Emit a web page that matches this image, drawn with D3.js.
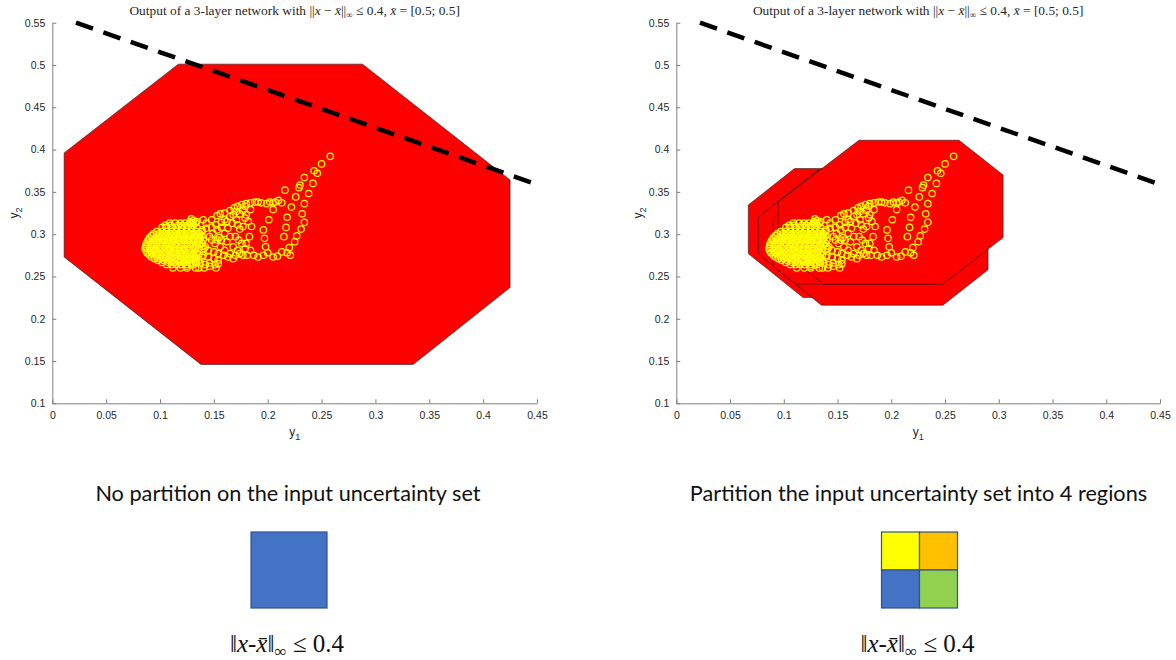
<!DOCTYPE html>
<html>
<head>
<meta charset="utf-8">
<script src="https://cdn.jsdelivr.net/npm/d3@7"></script>
<style>
body{margin:0;background:#fff;}
</style>
</head>
<body>
<div class="canvas"></div>
<script>
// DATA
const xTicks = [0, 0.05, 0.1, 0.15, 0.2, 0.25, 0.3, 0.35, 0.4, 0.45];
const yTicks = [0.1, 0.15, 0.2, 0.25, 0.3, 0.35, 0.4, 0.45, 0.5, 0.55];

// output set with no partition (octagon, [y1,y2])
const wholeSet = [[0.011,0.396],[0.117,0.501],[0.288,0.501],[0.425,0.364],[0.425,0.237],[0.335,0.146],[0.138,0.146],[0.011,0.273]];

// output sets of the 4 partitions, in drawing order
const region1 = [[0.067,0.3345],[0.110,0.3775],[0.200,0.3775],[0.235,0.3425],[0.235,0.270],[0.190,0.225],[0.118,0.225],[0.067,0.277]];
const region2 = [[0.0763,0.320],[0.131,0.375],[0.245,0.375],[0.290,0.330],[0.290,0.258],[0.248,0.216],[0.135,0.216],[0.0763,0.277]];
const region3 = [[0.0901,0.3187],[0.140,0.3687],[0.240,0.3687],[0.270,0.3387],[0.270,0.270],[0.240,0.241],[0.111,0.241],[0.0901,0.2615]];
const region4 = [[0.0947,0.338],[0.170,0.411],[0.263,0.411],[0.304,0.370],[0.304,0.296],[0.248,0.241],[0.137,0.241],[0.0947,0.283]];

// unsafe boundary (dashed)
const boundaryY1 = [0.022, 0.445];
const boundaryY2 = [0.550, 0.361];

// sampled network outputs [y1,y2]
const tipChain = [
  [0.258,0.392],[0.250,0.383],[0.243,0.375],[0.246,0.372],[0.242,0.360],[0.234,0.367],[0.230,0.358],
  [0.229,0.355],[0.238,0.348],[0.226,0.344],[0.234,0.336],[0.222,0.332],[0.232,0.324],[0.218,0.320],
  [0.234,0.314],[0.231,0.306],[0.217,0.308],[0.227,0.298],[0.215,0.297],[0.225,0.291],[0.220,0.284],
  [0.218,0.278],[0.213,0.279],[0.209,0.274],[0.205,0.273],[0.221,0.275],[0.216,0.352],[0.210,0.340]
];
const midLoops = [
  [0.205,0.337],[0.201,0.317],[0.196,0.305],[0.197,0.295],[0.198,0.285],[0.200,0.278],[0.196,0.275],
  [0.191,0.273],[0.187,0.275],[0.184,0.281],[0.180,0.289],[0.183,0.297],[0.185,0.309],[0.182,0.315],
  [0.179,0.319],[0.180,0.323],[0.184,0.329],[0.191,0.338],[0.194,0.337],[0.199,0.336],[0.202,0.338],
  [0.207,0.338],[0.213,0.337],[0.205,0.329]
];
const upperBand = [
  [0.134,0.315],[0.140,0.317],[0.143,0.313],[0.148,0.317],[0.153,0.322],[0.156,0.324],[0.160,0.325],
  [0.165,0.328],[0.169,0.331],[0.172,0.333],[0.176,0.335],[0.180,0.336],[0.184,0.337],[0.188,0.338],
  [0.153,0.305],[0.157,0.308],[0.160,0.317],[0.165,0.321],[0.168,0.323],[0.171,0.327],[0.174,0.324],
  [0.177,0.328],[0.179,0.333],[0.171,0.317],[0.172,0.311],[0.174,0.306],[0.177,0.309],[0.167,0.313],
  [0.163,0.307],[0.160,0.301],[0.165,0.297],[0.170,0.297],[0.173,0.293],[0.176,0.289],[0.179,0.283],
  [0.174,0.277],[0.170,0.275],[0.165,0.277],[0.160,0.281],[0.156,0.285],[0.151,0.289],[0.148,0.293],
  [0.146,0.297],[0.149,0.301],[0.153,0.293],[0.157,0.293],[0.162,0.291],[0.168,0.285],[0.172,0.281],
  [0.177,0.275],[0.181,0.275],[0.168,0.271],[0.163,0.273],[0.159,0.275],[0.154,0.277],[0.150,0.279],
  [0.145,0.281],[0.142,0.285],[0.139,0.289],[0.137,0.295],[0.136,0.301],[0.139,0.305],[0.143,0.307],
  [0.148,0.308],[0.157,0.314],[0.162,0.315],[0.152,0.311],[0.155,0.296],[0.140,0.275],[0.145,0.273],
  [0.150,0.271],[0.154,0.269],[0.146,0.266],[0.142,0.264],[0.137,0.266],[0.133,0.268],[0.129,0.264],
  [0.125,0.262],[0.122,0.266],[0.119,0.264],[0.154,0.265],[0.151,0.264],[0.146,0.262],[0.136,0.260],
  [0.128,0.315],[0.129,0.318],[0.131,0.316],[0.130,0.313]
];
// dense cluster, row by row: [y2, [y1 ...]]
const clusterRows = [
  [0.313, [0.109,0.114,0.119,0.123,0.128,0.133]],
  [0.3105, [0.105,0.110,0.117,0.121,0.126,0.131]],
  [0.308, [0.102,0.106,0.111,0.115,0.120,0.125,0.129,0.134]],
  [0.303, [0.097,0.102,0.106,0.111,0.115,0.120,0.125,0.129,0.134,0.139]],
  [0.3005, [0.094,0.099,0.104,0.109,0.113,0.118,0.122,0.127,0.132,0.137]],
  [0.298, [0.092,0.097,0.102,0.106,0.111,0.115,0.120,0.125,0.129,0.134,0.139]],
  [0.2955, [0.090,0.095,0.100,0.104,0.109,0.113,0.118,0.123,0.127,0.132,0.137]],
  [0.293, [0.089,0.094,0.098,0.103,0.108,0.112,0.117,0.122,0.126,0.131,0.136,0.140]],
  [0.2905, [0.088,0.093,0.097,0.102,0.107,0.111,0.116,0.120,0.125,0.130,0.135]],
  [0.288, [0.087,0.091,0.095,0.100,0.105,0.109,0.114,0.119,0.123,0.128,0.133,0.137]],
  [0.2855, [0.087,0.092,0.097,0.101,0.106,0.111,0.115,0.120,0.125,0.130,0.134,0.139]],
  [0.283, [0.086,0.090,0.094,0.099,0.104,0.108,0.113,0.118,0.122,0.127,0.132,0.136,0.141]],
  [0.2805, [0.087,0.091,0.095,0.100,0.104,0.109,0.113,0.118,0.123,0.127,0.132]],
  [0.278, [0.088,0.092,0.097,0.102,0.106,0.111,0.115,0.120,0.125,0.129,0.134]],
  [0.2755, [0.090,0.094,0.099,0.104,0.108,0.113,0.118,0.122,0.127,0.131,0.136]],
  [0.273, [0.092,0.097,0.102,0.106,0.111,0.115,0.120,0.125,0.129,0.134,0.139]],
  [0.271, [0.095,0.100,0.105,0.110,0.114,0.119,0.124,0.128,0.133]],
  [0.269, [0.098,0.103,0.108,0.112,0.117,0.122,0.126,0.131,0.136]],
  [0.2665, [0.102,0.108,0.113,0.118,0.123,0.128,0.134]],
  [0.264, [0.106,0.111,0.115,0.120,0.125,0.131]],
  [0.260, [0.112,0.119,0.125,0.133,0.141,0.152]]
];

const titleText = "Output of a 3-layer network with";
const captions = ["No partition on the input uncertainty set", "Partition the input uncertainty set into 4 regions"];
const partitionColors = ["#ffff00", "#ffc000", "#4472c4", "#92d050"];
const inputNorm = "0.4";

// LAYOUT
const W = 1176, H = 660;
const plotTop = 22.7, plotBottom = 403.3;
const panels = [
  {left: 52.3, right: 537, sets: [wholeSet], cx: 289, squares: [partitionColors[2]], grid: 1},
  {left: 676.3, right: 1160, sets: [region1, region2, region3, region4], cx: 919.5, squares: partitionColors, grid: 2}
];

const points = tipChain.concat(midLoops, upperBand,
  clusterRows.flatMap(r => r[1].map(v => [v, r[0]])));

const svg = d3.select(".canvas").append("svg")
  .attr("width", W).attr("height", H)
  .style("font-family", "'Liberation Sans', Arial, sans-serif");

const fmt = d => String(+d.toFixed(2));

panels.forEach(p => {
  const x = d3.scaleLinear().domain([0, 0.45]).range([p.left, p.right]);
  const y = d3.scaleLinear().domain([0.1, 0.55]).range([plotBottom, plotTop]);
  const g = svg.append("g");

  // reachable sets
  g.selectAll("polygon").data(p.sets).enter().append("polygon")
    .attr("points", d => d.map(v => x(v[0]) + "," + y(v[1])).join(" "))
    .attr("fill", "#ff0000")
    .attr("stroke", "#1a1a1a")
    .attr("stroke-width", 0.6);

  // sampled outputs
  g.selectAll("circle").data(points).enter().append("circle")
    .attr("cx", d => x(d[0]))
    .attr("cy", d => y(d[1]))
    .attr("r", 3.2)
    .attr("fill", "none")
    .attr("stroke", "#ffff00")
    .attr("stroke-width", 1.25);

  // boundary
  g.append("line")
    .attr("x1", x(boundaryY1[0])).attr("y1", y(boundaryY2[0]))
    .attr("x2", x(boundaryY1[1])).attr("y2", y(boundaryY2[1]))
    .attr("stroke", "#000")
    .attr("stroke-width", 4.5)
    .attr("stroke-dasharray", "18,11");

  // axes
  const xa = g.append("g")
    .attr("transform", `translate(0,${plotBottom})`)
    .call(d3.axisBottom(x).tickValues(xTicks).tickFormat(fmt).tickSize(-4).tickSizeOuter(0).tickPadding(8));
  const ya = g.append("g")
    .attr("transform", `translate(${p.left},0)`)
    .call(d3.axisLeft(y).tickValues(yTicks).tickFormat(fmt).tickSize(-4).tickSizeOuter(0).tickPadding(7));
  [xa, ya].forEach(a => {
    a.select(".domain").attr("stroke", "#7f7f7f");
    a.selectAll(".tick line").attr("stroke", "#7f7f7f");
    a.selectAll("text").attr("fill", "#262626")
      .style("font-size", "10.5px").style("font-family", "'Liberation Sans', Arial, sans-serif");
  });

  const mid = (p.left + p.right) / 2;
  const xl = g.append("text").attr("x", mid).attr("y", 436)
    .attr("text-anchor", "middle").attr("fill", "#262626").style("font-size", "12px");
  xl.append("tspan").text("y");
  xl.append("tspan").attr("dy", 4).style("font-size", "9px").text("1");

  const yl = g.append("text")
    .attr("transform", `translate(${p.left - 34},${(plotTop + plotBottom) / 2}) rotate(-90)`)
    .attr("text-anchor", "middle").attr("fill", "#262626").style("font-size", "12px");
  yl.append("tspan").text("y");
  yl.append("tspan").attr("dy", 4).style("font-size", "9px").text("2");

  // title
  const t = g.append("text").attr("x", mid).attr("y", 15)
    .attr("text-anchor", "middle").attr("fill", "#262626")
    .style("font-family", "'Liberation Serif', 'DejaVu Serif', serif").style("font-size", "13.4px");
  t.append("tspan").text(titleText + " ||");
  t.append("tspan").style("font-style", "italic").text("x");
  t.append("tspan").text(" \u2212 ");
  t.append("tspan").style("font-style", "italic").text("x\u0304");
  t.append("tspan").text("||");
  t.append("tspan").attr("dy", 3).style("font-size", "9px").text("\u221e");
  t.append("tspan").attr("dy", -3).text(" \u2264 0.4, ");
  t.append("tspan").style("font-style", "italic").text("x\u0304");
  t.append("tspan").text(" = [0.5; 0.5]");
});

// captions and input sets
const side = 76;
panels.forEach((p, i) => {
  svg.append("text").attr("x", p.cx - 1).attr("y", 501)
    .attr("text-anchor", "middle").attr("fill", "#111")
    .style("font-family", "Lato, 'Open Sans', sans-serif").style("font-size", "21.7px")
    .text(captions[i]);

  const cell = side / p.grid;
  const x0 = p.cx - side / 2, y0 = 532;
  svg.append("g").selectAll("rect").data(p.squares).enter().append("rect")
    .attr("x", (d, k) => x0 + (k % p.grid) * cell)
    .attr("y", (d, k) => y0 + Math.floor(k / p.grid) * cell)
    .attr("width", cell).attr("height", cell)
    .attr("fill", d => d)
    .attr("stroke", "#2f528f").attr("stroke-width", 1.2);

  const f = svg.append("text").attr("x", p.cx - 2).attr("y", 652)
    .attr("text-anchor", "middle").attr("fill", "#111")
    .style("font-family", "'Liberation Serif', 'DejaVu Serif', serif").style("font-size", "25px");
  f.append("tspan").text("\u2016");
  f.append("tspan").style("font-style", "italic").text("x");
  f.append("tspan").text("-");
  f.append("tspan").style("font-style", "italic").text("x\u0304");
  f.append("tspan").text("\u2016");
  f.append("tspan").attr("dy", 5).style("font-size", "17px").text("\u221e");
  f.append("tspan").attr("dy", -5).text(" \u2264 " + inputNorm);
});
</script>
</body>
</html>
